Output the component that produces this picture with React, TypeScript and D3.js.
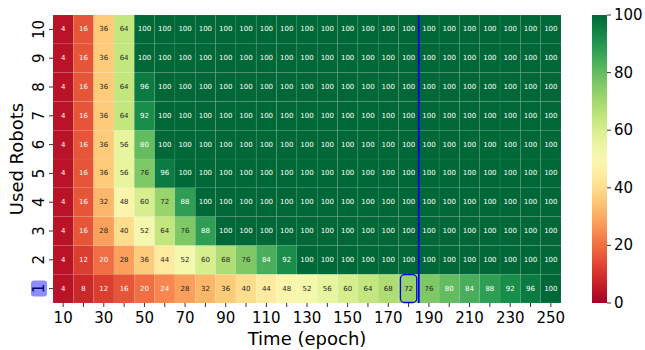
import { useRef, useEffect } from "react";
import * as d3 from "d3";

const times = [10, 20, 30, 40, 50, 60, 70, 80, 90, 100, 110, 120, 130, 140, 150, 160, 170, 180, 190, 200, 210, 220, 230, 240, 250];
const robots = [1, 2, 3, 4, 5, 6, 7, 8, 9, 10];

// success rate per robot count (row), one value per epoch column
const row1 = [4, 8, 12, 16, 20, 24, 28, 32, 36, 40, 44, 48, 52, 56, 60, 64, 68, 72, 76, 80, 84, 88, 92, 96, 100];
const row2 = [4, 12, 20, 28, 36, 44, 52, 60, 68, 76, 84, 92, 100, 100, 100, 100, 100, 100, 100, 100, 100, 100, 100, 100, 100];
const row3 = [4, 16, 28, 40, 52, 64, 76, 88, 100, 100, 100, 100, 100, 100, 100, 100, 100, 100, 100, 100, 100, 100, 100, 100, 100];
const row4 = [4, 16, 32, 48, 60, 72, 88, 100, 100, 100, 100, 100, 100, 100, 100, 100, 100, 100, 100, 100, 100, 100, 100, 100, 100];
const row5 = [4, 16, 36, 56, 76, 96, 100, 100, 100, 100, 100, 100, 100, 100, 100, 100, 100, 100, 100, 100, 100, 100, 100, 100, 100];
const row6 = [4, 16, 36, 56, 80, 100, 100, 100, 100, 100, 100, 100, 100, 100, 100, 100, 100, 100, 100, 100, 100, 100, 100, 100, 100];
const row7 = [4, 16, 36, 64, 92, 100, 100, 100, 100, 100, 100, 100, 100, 100, 100, 100, 100, 100, 100, 100, 100, 100, 100, 100, 100];
const row8 = [4, 16, 36, 64, 96, 100, 100, 100, 100, 100, 100, 100, 100, 100, 100, 100, 100, 100, 100, 100, 100, 100, 100, 100, 100];
const row9 = [4, 16, 36, 64, 100, 100, 100, 100, 100, 100, 100, 100, 100, 100, 100, 100, 100, 100, 100, 100, 100, 100, 100, 100, 100];
const row10 = [4, 16, 36, 64, 100, 100, 100, 100, 100, 100, 100, 100, 100, 100, 100, 100, 100, 100, 100, 100, 100, 100, 100, 100, 100];
const rows = [row1, row2, row3, row4, row5, row6, row7, row8, row9, row10];

const xTickLabels = [10, 30, 50, 70, 90, 110, 130, 150, 170, 190, 210, 230, 250];
const cbarTicks = [0, 20, 40, 60, 80, 100];
const markTime = 180;
const markRobot = 1;

const font = "DejaVu Sans, sans-serif";

function luminance(c: string) {
  const rgb = d3.rgb(c);
  const f = (v: number) => {
    v = v / 255;
    return v <= 0.03928 ? v / 12.92 : Math.pow((v + 0.055) / 1.055, 2.4);
  };
  return 0.2126 * f(rgb.r) + 0.7152 * f(rgb.g) + 0.0722 * f(rgb.b);
}

export default function App() {
  const svgRef = useRef<SVGSVGElement>(null);

  useEffect(() => {
    const svg = d3.select(svgRef.current);
    svg.selectAll("*").remove();

    const width = 645;
    const height = 350;
    const margin = { top: 15, left: 53, right: 84, bottom: 47 };

    const x = d3.scaleBand<number>()
      .domain(times)
      .range([margin.left, width - margin.right]);

    const y = d3.scaleBand<number>()
      .domain(robots.slice().reverse())
      .range([margin.top, height - margin.bottom]);

    const color = d3.scaleSequential(d3.interpolateRdYlGn).domain([0, 100]);

    const cells = rows.flatMap((vals, i) =>
      vals.map((v, j) => ({ robot: robots[i], time: times[j], value: v }))
    );

    const g = svg.append("g");

    g.selectAll("rect.cell")
      .data(cells)
      .enter()
      .append("rect")
      .attr("class", "cell")
      .attr("x", d => x(d.time)!)
      .attr("y", d => y(d.robot)!)
      .attr("width", x.bandwidth())
      .attr("height", y.bandwidth())
      .attr("fill", d => color(d.value))
      .attr("stroke", "rgba(255,255,255,0.1)")
      .attr("stroke-width", 0.6);

    g.selectAll("text.annot")
      .data(cells)
      .enter()
      .append("text")
      .attr("x", d => x(d.time)! + x.bandwidth() / 2)
      .attr("y", d => y(d.robot)! + y.bandwidth() / 2)
      .attr("text-anchor", "middle")
      .attr("dominant-baseline", "central")
      .style("font-family", font)
      .style("font-size", "7px")
      .style("fill", d => (luminance(color(d.value)) > 0.408 ? "#262626" : "#ffffff"))
      .text(d => d.value);

    // x axis ticks
    const xAxis = g.append("g");
    xAxis.selectAll("line")
      .data(times)
      .enter()
      .append("line")
      .attr("x1", d => x(d)! + x.bandwidth() / 2)
      .attr("x2", d => x(d)! + x.bandwidth() / 2)
      .attr("y1", height - margin.bottom)
      .attr("y2", height - margin.bottom + 4)
      .attr("stroke", "#000")
      .attr("stroke-width", 0.8);
    xAxis.selectAll("text")
      .data(xTickLabels)
      .enter()
      .append("text")
      .attr("x", d => x(d)! + x.bandwidth() / 2)
      .attr("y", height - margin.bottom + 20)
      .attr("text-anchor", "middle")
      .style("font-family", font)
      .style("font-size", "15px")
      .text(d => d);

    // y axis ticks
    const yAxis = g.append("g");
    yAxis.selectAll("line")
      .data(robots)
      .enter()
      .append("line")
      .attr("x1", margin.left - 4)
      .attr("x2", margin.left)
      .attr("y1", d => y(d)! + y.bandwidth() / 2)
      .attr("y2", d => y(d)! + y.bandwidth() / 2)
      .attr("stroke", "#000")
      .attr("stroke-width", 0.8);

    // highlight behind the "1" tick label
    const hy = y(markRobot)! + y.bandwidth() / 2;
    yAxis.append("rect")
      .attr("x", 31)
      .attr("y", hy - 8)
      .attr("width", 16)
      .attr("height", 16)
      .attr("rx", 3)
      .attr("fill", "rgba(80,80,255,0.65)");

    yAxis.selectAll("text")
      .data(robots)
      .enter()
      .append("text")
      .attr("transform", d => `translate(${margin.left - 9},${y(d)! + y.bandwidth() / 2}) rotate(-90)`)
      .attr("text-anchor", "middle")
      .style("font-family", font)
      .style("font-size", "15px")
      .style("fill", d => (d === markRobot ? "#000066" : "#000"))
      .text(d => d);

    // axis titles
    svg.append("text")
      .attr("transform", `translate(23,${(margin.top + height - margin.bottom) / 2}) rotate(-90)`)
      .attr("text-anchor", "middle")
      .style("font-family", font)
      .style("font-size", "18px")
      .text("Used Robots");

    svg.append("text")
      .attr("x", (margin.left + width - margin.right) / 2)
      .attr("y", 345)
      .attr("text-anchor", "middle")
      .style("font-family", font)
      .style("font-size", "18px")
      .text("Time (epoch)");

    // vertical marker after epoch 180
    const lineX = x(markTime)! + x.bandwidth();
    svg.append("line")
      .attr("x1", lineX)
      .attr("x2", lineX)
      .attr("y1", margin.top)
      .attr("y2", height - margin.bottom)
      .attr("stroke", "#0000ee")
      .attr("stroke-width", 1.8);

    // box around highlighted cell
    svg.append("rect")
      .attr("x", x(markTime)! + 2)
      .attr("y", y(markRobot)! + 0.5)
      .attr("width", x.bandwidth() - 4)
      .attr("height", y.bandwidth() - 1)
      .attr("rx", 4)
      .attr("fill", "none")
      .attr("stroke", "#0000ee")
      .attr("stroke-width", 1.3);

    // colorbar
    const cb = { x: 592, w: 15 };
    const cy = d3.scaleLinear().domain([0, 100]).range([height - margin.bottom, margin.top]);
    const defs = svg.append("defs");
    const grad = defs.append("linearGradient")
      .attr("id", "cbar")
      .attr("x1", 0).attr("y1", 1).attr("x2", 0).attr("y2", 0);
    d3.range(0, 101, 5).forEach(v => {
      grad.append("stop")
        .attr("offset", `${v}%`)
        .attr("stop-color", color(v));
    });
    svg.append("rect")
      .attr("x", cb.x)
      .attr("y", margin.top)
      .attr("width", cb.w)
      .attr("height", height - margin.bottom - margin.top)
      .attr("fill", "url(#cbar)");

    const cbAxis = svg.append("g");
    cbAxis.selectAll("line")
      .data(cbarTicks)
      .enter()
      .append("line")
      .attr("x1", cb.x + cb.w)
      .attr("x2", cb.x + cb.w + 4)
      .attr("y1", d => cy(d))
      .attr("y2", d => cy(d))
      .attr("stroke", "#000")
      .attr("stroke-width", 0.8);
    cbAxis.selectAll("text")
      .data(cbarTicks)
      .enter()
      .append("text")
      .attr("x", cb.x + cb.w + 7)
      .attr("y", d => cy(d))
      .attr("dominant-baseline", "central")
      .style("font-family", font)
      .style("font-size", "15px")
      .text(d => d);
  }, []);

  return (
    <svg
      ref={svgRef}
      width={645}
      height={350}
      style={{ position: "absolute", left: 0, top: 0, background: "#fff" }}
    />
  );
}
